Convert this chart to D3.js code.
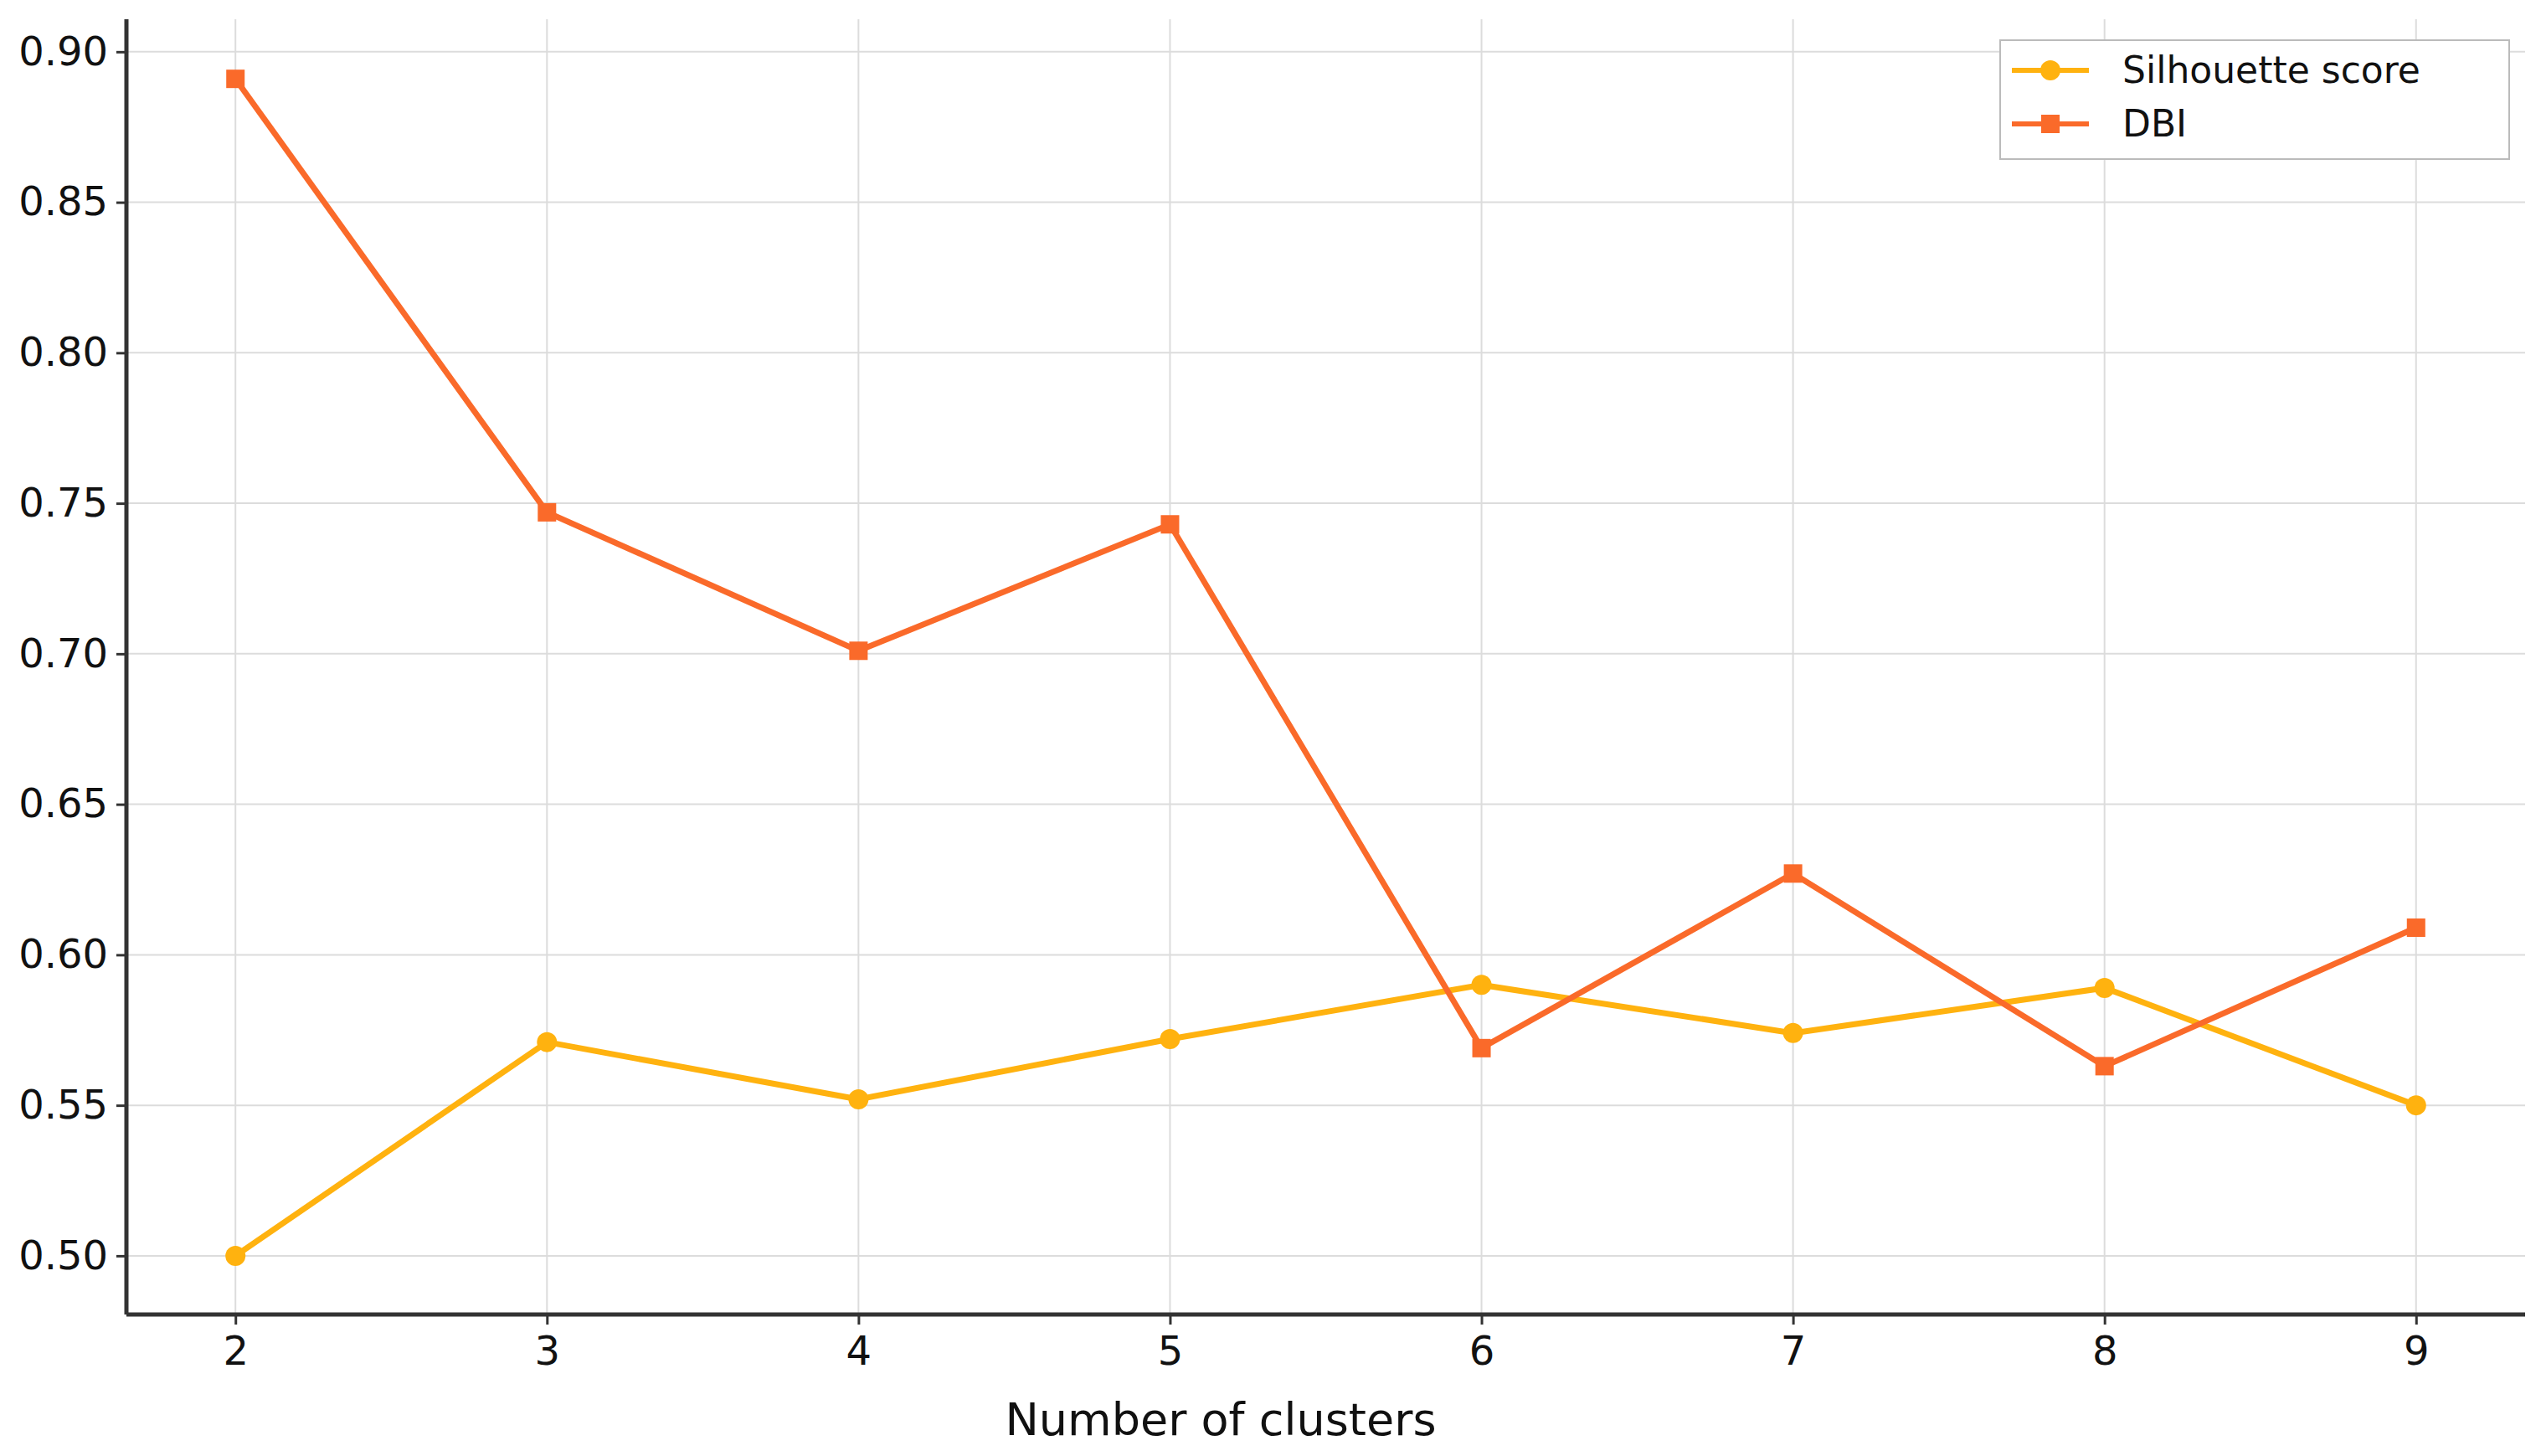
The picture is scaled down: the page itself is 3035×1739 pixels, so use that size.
<!DOCTYPE html>
<html><head><meta charset="utf-8">
<script src="https://cdn.jsdelivr.net/npm/d3@7"></script>
<style>body{margin:0;background:#fff}text{font-family:"DejaVu Sans",sans-serif}</style>
</head><body><div id="chart"></div>
<script>
// data
const clusters = [2, 3, 4, 5, 6, 7, 8, 9];
const silhouette = [0.500, 0.571, 0.552, 0.572, 0.590, 0.574, 0.589, 0.550];
const dbi = [0.891, 0.747, 0.701, 0.743, 0.569, 0.627, 0.563, 0.609];
const yTicks = [0.50, 0.55, 0.60, 0.65, 0.70, 0.75, 0.80, 0.85, 0.90];
const seriesNames = ["Silhouette score", "DBI"];

let width = 3035, height = 1739;
let margin = {top: 23, left: 151, right: 19, bottom: 169};
let chartWidth = width - margin.left - margin.right;
let chartHeight = height - margin.top - margin.bottom;

let x = d3.scaleLinear().domain([1.65, 9.35]).range([0, chartWidth]);
let y = d3.scaleLinear().domain([0.4805, 0.9108]).range([chartHeight, 0]);

let svg = d3.select("#chart").append("svg").attr("width", width).attr("height", height);
let chart = svg.append("g").attr("transform", "translate(" + margin.left + "," + margin.top + ")");

// gridlines
chart.append("g").selectAll("line").data(yTicks).join("line")
  .attr("x1", 0).attr("x2", chartWidth)
  .attr("y1", d => y(d)).attr("y2", d => y(d))
  .attr("stroke", "#dcdcdc").attr("stroke-width", 2);
chart.append("g").selectAll("line").data(clusters).join("line")
  .attr("y1", 0).attr("y2", chartHeight)
  .attr("x1", d => x(d)).attr("x2", d => x(d))
  .attr("stroke", "#dcdcdc").attr("stroke-width", 2);

// axes
let xAxis = d3.axisBottom(x).tickValues(clusters).tickSize(12).tickPadding(14).tickFormat(d3.format("d"));
let yAxis = d3.axisLeft(y).tickValues(yTicks).tickSize(12).tickPadding(10).tickFormat(d3.format(".2f"));
let gx = chart.append("g").attr("transform", "translate(0," + chartHeight + ")").call(xAxis);
let gy = chart.append("g").call(yAxis);
[gx, gy].forEach(g => {
  g.select(".domain").attr("stroke", "#333").attr("stroke-width", 5);
  g.selectAll(".tick line").attr("stroke", "#333").attr("stroke-width", 3);
  g.selectAll(".tick text").attr("font-size", 48).attr("fill", "#111").attr("font-family", "DejaVu Sans");
});
gx.select(".domain").attr("d", "M0,0H" + chartWidth);
gy.select(".domain").attr("d", "M0," + chartHeight + "V0");

svg.append("text").attr("x", 1458).attr("y", 1714)
  .attr("text-anchor", "middle").attr("font-size", 54).attr("fill", "#111")
  .text("Number of clusters");

let colors = ["#FFB20F", "#FA6A2A"];
let allSeries = [silhouette, dbi];
let line = d3.line().x((d, i) => x(clusters[i])).y(d => y(d));

allSeries.forEach((vals, k) => {
  chart.append("path").attr("d", line(vals)).attr("fill", "none")
    .attr("stroke", colors[k]).attr("stroke-width", 7);
  if (k === 0) {
    chart.append("g").selectAll("circle").data(vals).join("circle")
      .attr("cx", (d, i) => x(clusters[i])).attr("cy", d => y(d)).attr("r", 12).attr("fill", colors[k]);
  } else {
    chart.append("g").selectAll("rect").data(vals).join("rect")
      .attr("x", (d, i) => x(clusters[i]) - 11).attr("y", d => y(d) - 11)
      .attr("width", 22).attr("height", 22).attr("fill", colors[k]);
  }
});

// legend
let legend = svg.append("g").attr("transform", "translate(2389,48)");
legend.append("rect").attr("width", 608).attr("height", 142)
  .attr("fill", "#fff").attr("stroke", "#bbb").attr("stroke-width", 2);
seriesNames.forEach((name, k) => {
  let yy = 36 + k * 64;
  legend.append("line").attr("x1", 14).attr("x2", 106).attr("y1", yy).attr("y2", yy)
    .attr("stroke", colors[k]).attr("stroke-width", 6);
  if (k === 0) legend.append("circle").attr("cx", 60).attr("cy", yy).attr("r", 12).attr("fill", colors[k]);
  else legend.append("rect").attr("x", 49).attr("y", yy - 11).attr("width", 22).attr("height", 22).attr("fill", colors[k]);
  legend.append("text").attr("x", 146).attr("y", yy).attr("dy", "0.35em")
    .attr("font-size", 44).attr("fill", "#111").text(name);
});
</script></body></html>
